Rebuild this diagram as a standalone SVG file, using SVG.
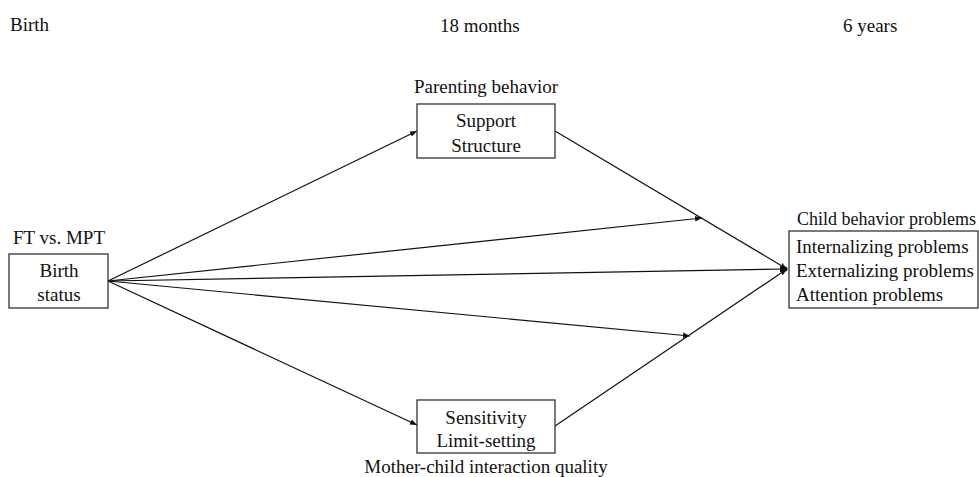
<svg xmlns="http://www.w3.org/2000/svg" width="979" height="477" viewBox="0 0 979 477">
<style>
text{font-family:"Liberation Serif","Times New Roman",serif;font-size:19px;fill:#111}
.box{fill:#fff;stroke:#333;stroke-width:1.3}
.c{stroke:#111;stroke-width:1.2;fill:none;marker-end:url(#ah)}
</style>
<defs>
<marker id="ah" viewBox="0 0 10 10" refX="10" refY="5" markerWidth="7" markerHeight="7" markerUnits="userSpaceOnUse" orient="auto">
<path d="M0,1 L10,5 L0,9 z" fill="#111"/>
</marker>
</defs>
<rect width="979" height="477" fill="#fff"/>
<g id="timeline">
<text x="10" y="31">Birth</text>
<text x="440" y="32">18 months</text>
<text x="843" y="32">6 years</text>
</g>
<g id="connectors">
<line class="c" x1="108" y1="281" x2="417" y2="131"/>
<line class="c" x1="108" y1="281" x2="417" y2="425"/>
<line class="c" x1="108" y1="281" x2="702" y2="218"/>
<line class="c" x1="108" y1="281" x2="690" y2="336"/>
<line class="c" x1="108" y1="281" x2="787" y2="269"/>
<line class="c" x1="555" y1="131" x2="787" y2="269"/>
<line class="c" x1="555" y1="426" x2="787" y2="269"/>
<circle cx="785" cy="269" r="2.5" fill="#111"/>
</g>
<g id="birth">
<text x="59" y="244" text-anchor="middle">FT vs. MPT</text>
<rect class="box" x="9" y="254" width="99" height="54"/>
<text x="59" y="277" text-anchor="middle">Birth</text>
<text x="59" y="301" text-anchor="middle">status</text>
</g>
<g id="parenting">
<text x="486" y="93" text-anchor="middle">Parenting behavior</text>
<rect class="box" x="417" y="104" width="138" height="54"/>
<text x="486" y="127" text-anchor="middle">Support</text>
<text x="486" y="152" text-anchor="middle">Structure</text>
</g>
<g id="interaction">
<rect class="box" x="417" y="400" width="138" height="53"/>
<text x="486" y="424" text-anchor="middle">Sensitivity</text>
<text x="486" y="447" text-anchor="middle">Limit-setting</text>
<text x="486" y="473" text-anchor="middle">Mother-child interaction quality</text>
</g>
<g id="outcomes">
<text x="797" y="225" style="font-size:18px">Child behavior problems</text>
<rect class="box" x="789" y="231" width="189" height="77"/>
<text x="796" y="253">Internalizing problems</text>
<text x="796" y="277">Externalizing problems</text>
<text x="796" y="301">Attention problems</text>
</g>
</svg>
